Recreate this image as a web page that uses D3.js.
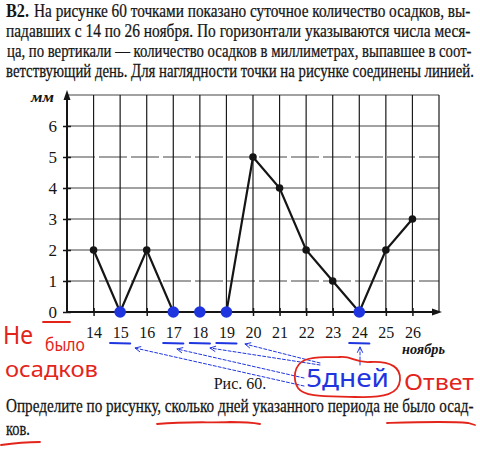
<!DOCTYPE html>
<html>
<head>
<meta charset="utf-8">
<script src="https://cdn.jsdelivr.net/npm/d3@7"></script>
<style>
  html, body { margin: 0; padding: 0; background: #fff; }
  svg { display: block; }
</style>
</head>
<body>
<svg id="chart" width="480" height="450"></svg>
<script>
// ---- data ----
const days = [14, 15, 16, 17, 18, 19, 20, 21, 22, 23, 24, 25, 26];
const precipitation = [2, 0, 2, 0, 0, 0, 5, 4, 2, 1, 0, 2, 3];
const yTickValues = [0, 1, 2, 3, 4, 5, 6];
const dryDays = [15, 17, 18, 19, 24];
const headLabel = "B2.";
const headLines = [
  "На рисунке 60 точками показано суточное количество осадков, вы-",
  "падавших с 14 по 26 ноября. По горизонтали указываются числа меся-",
  "ца, по вертикали — количество осадков в миллиметрах, выпавшее в соот-",
  "ветствующий день. Для наглядности точки на рисунке соединены линией."
];
const questionLines = [
  "Определите по рисунку, сколько дней указанного периода не было осад-",
  "ков."
];
const yUnit = "мм";
const xUnit = "ноябрь";
const caption = "Рис. 60.";
const noteLeft = ["Не", "было", "осадков"];
const answerText = "5дней";
const answerLabel = "Ответ";

// ---- setup ----
const svg = d3.select("#chart");
const serif = "'Liberation Serif', 'Times New Roman', serif";
const hand = "'Noto Sans', 'DejaVu Sans', sans-serif";
const red = "#e3241b";
const blue = "#1f35e0";
const ink = "#151515";

const x = d3.scaleLinear().domain([13, 27]).range([67, 439]);
const y = d3.scaleLinear().domain([0, 7]).range([312, 95]);

// place a text so that it spans [x0, x1] horizontally (scaled like a condensed face)
function fitText(t, x0, x1, yb) {
  t.attr("x", 0).attr("y", 0);
  const w = t.node().getComputedTextLength();
  const s = (x1 - x0) / w;
  t.attr("transform", `translate(${x0},${yb}) scale(${s},1)`);
  return t;
}

// ---- header text ----
fitText(svg.append("text")
  .attr("font-family", serif).attr("font-size", 18).attr("font-weight", "bold")
  .attr("fill", ink).text(headLabel), 6, 29, 16.5);
const headSpans = [[34, 471], [6, 471], [7, 472], [6, 474]];
headLines.forEach((t, i) => {
  fitText(svg.append("text")
    .attr("font-family", serif).attr("font-size", 18)
    .attr("fill", ink).attr("stroke", ink).attr("stroke-width", 0.25).text(t),
    headSpans[i][0], headSpans[i][1], 16.5 + i * 20);
});

// ---- grid ----
const grid = svg.append("g");
grid.selectAll("line.h").data(d3.range(1, 8)).join("line")
  .attr("x1", x(13)).attr("x2", x(27))
  .attr("y1", d => y(d)).attr("y2", d => y(d))
  .attr("stroke", "#444").attr("stroke-width", 1)
  .attr("stroke-dasharray", d => (d === 1 || d === 5) ? "28,4" : null);
grid.selectAll("line.v").data(d3.range(14, 28)).join("line")
  .attr("x1", d => x(d)).attr("x2", d => x(d))
  .attr("y1", y(7)).attr("y2", y(0))
  .attr("stroke", "#1a1a1a").attr("stroke-width", 1.2);

// ---- axes ----
const xAxis = svg.append("g").attr("transform", `translate(0,${y(0)})`)
  .call(d3.axisBottom(x).tickValues(days).tickSize(4).tickFormat(d3.format("d")));
xAxis.select(".domain").remove();
xAxis.selectAll(".tick line").attr("y1", -4).attr("y2", 4).attr("stroke", ink).attr("stroke-width", 1.5);
xAxis.selectAll(".tick text").attr("y", 26).attr("dy", 0)
  .attr("font-family", serif).attr("font-size", 16).attr("fill", ink);

const yAxis = svg.append("g").attr("transform", `translate(${x(13)},0)`)
  .call(d3.axisLeft(y).tickValues(yTickValues).tickSize(4).tickFormat(d3.format("d")));
yAxis.select(".domain").remove();
yAxis.selectAll(".tick line").attr("x1", -4).attr("x2", 4).attr("stroke", ink).attr("stroke-width", 1.5);
yAxis.selectAll(".tick text").attr("x", -10).attr("dy", "0.35em")
  .attr("font-family", serif).attr("font-size", 17).attr("fill", ink);

// axis lines with arrows
svg.append("line").attr("x1", x(13)).attr("x2", x(13)).attr("y1", y(0)).attr("y2", 96)
  .attr("stroke", ink).attr("stroke-width", 2);
svg.append("path").attr("d", `M${x(13)},90 L${x(13) - 3.5},100 L${x(13) + 3.5},100 Z`).attr("fill", ink);
svg.append("line").attr("x1", x(13)).attr("x2", 436).attr("y1", y(0)).attr("y2", y(0))
  .attr("stroke", ink).attr("stroke-width", 2);
svg.append("path").attr("d", `M442,${y(0)} L432,${y(0) - 3.5} L432,${y(0) + 3.5} Z`).attr("fill", ink);

fitText(svg.append("text")
  .attr("font-family", serif).attr("font-size", 14).attr("font-style", "italic").attr("font-weight", "bold")
  .attr("fill", ink).text(yUnit), 31, 54, 102);
fitText(svg.append("text")
  .attr("font-family", serif).attr("font-size", 15).attr("font-style", "italic").attr("font-weight", "bold")
  .attr("fill", ink).text(xUnit), 402, 445, 354);

// ---- data line and points ----
const pts = days.map((d, i) => ({ day: d, v: precipitation[i] }));
svg.append("path").datum(pts)
  .attr("d", d3.line().x(d => x(d.day)).y(d => y(d.v)))
  .attr("fill", "none").attr("stroke", ink).attr("stroke-width", 2.2);
svg.selectAll("circle.p").data(pts).join("circle")
  .attr("cx", d => x(d.day)).attr("cy", d => y(d.v)).attr("r", 3.8).attr("fill", ink);
svg.selectAll("circle.b").data(pts.filter(p => dryDays.includes(p.day))).join("circle")
  .attr("cx", d => x(d.day)).attr("cy", d => y(d.v)).attr("r", 5.8).attr("fill", blue);

// ---- caption and question ----
svg.append("text").attr("x", 240).attr("y", 389).attr("text-anchor", "middle")
  .attr("font-family", serif).attr("font-size", 16).attr("fill", ink).text(caption);
const qSpans = [[6, 474], [6, 30]];
questionLines.forEach((t, i) => {
  fitText(svg.append("text")
    .attr("font-family", serif).attr("font-size", 18)
    .attr("fill", ink).attr("stroke", ink).attr("stroke-width", 0.25).text(t),
    qSpans[i][0], qSpans[i][1], 412 + i * 22.5);
});

// ---- handwritten annotations ----
const ann = svg.append("g").attr("fill", "none").attr("stroke-linecap", "round");
dryDays.forEach(d => {
  ann.append("line").attr("x1", x(d) - 10).attr("x2", x(d) + 10)
    .attr("y1", 343).attr("y2", 343.5).attr("stroke", blue).attr("stroke-width", 2.2);
});
const arrows = [
  { from: [304, 386], to: [135, 348] },
  { from: [304, 378], to: [177, 349] },
  { from: [320, 365], to: [210, 348] },
  { from: [320, 363], to: [245, 344] },
  { from: [360, 365], to: [360, 347] }
];
arrows.forEach(a => {
  ann.append("line").attr("x1", a.from[0]).attr("y1", a.from[1])
    .attr("x2", a.to[0]).attr("y2", a.to[1])
    .attr("stroke", blue).attr("stroke-width", 1).attr("stroke-dasharray", "3,2");
  const ang = Math.atan2(a.to[1] - a.from[1], a.to[0] - a.from[0]);
  const L = 6;
  const p1 = [a.to[0] - L * Math.cos(ang - 0.45), a.to[1] - L * Math.sin(ang - 0.45)];
  const p2 = [a.to[0] - L * Math.cos(ang + 0.45), a.to[1] - L * Math.sin(ang + 0.45)];
  ann.append("path").attr("d", `M${p1[0]},${p1[1]} L${a.to[0]},${a.to[1]} L${p2[0]},${p2[1]}`)
    .attr("stroke", blue).attr("stroke-width", 1);
});
ann.append("path")
  .attr("d", "M340,357 C352,356 356,363 370,362 C392,361 401,368 400,380 C399,394 385,398 355,397 C330,396 305,398 298,388 C293,380 293,365 305,360 C318,355 330,358 340,357 Z")
  .attr("stroke", red).attr("stroke-width", 1.8);
ann.append("path").attr("d", "M43,322 L70,322").attr("stroke", red).attr("stroke-width", 1.8);
ann.append("path").attr("d", "M157,424 C190,421 210,423 230,422 C245,422 255,423 260,424").attr("stroke", red).attr("stroke-width", 1.8);
ann.append("path").attr("d", "M387,423 C420,422 450,421 468,423 L475,425").attr("stroke", red).attr("stroke-width", 1.8);
ann.append("path").attr("d", "M1,445 C15,443 28,442 40,442").attr("stroke", red).attr("stroke-width", 1.8);

// handwritten texts
const noteSpans = [[3, 33, 344, 25], [45, 85, 351, 19], [5, 98, 377, 21]];
noteLeft.forEach((t, i) => {
  fitText(svg.append("text")
    .attr("font-family", hand).attr("font-size", noteSpans[i][3]).attr("fill", red)
    .text(t), noteSpans[i][0], noteSpans[i][1], noteSpans[i][2]);
});
fitText(svg.append("text")
  .attr("font-family", hand).attr("font-size", 25).attr("fill", blue)
  .text(answerText), 306, 389, 387);
fitText(svg.append("text")
  .attr("font-family", hand).attr("font-size", 22).attr("fill", red)
  .text(answerLabel), 404, 474, 390);
</script>
</body>
</html>
